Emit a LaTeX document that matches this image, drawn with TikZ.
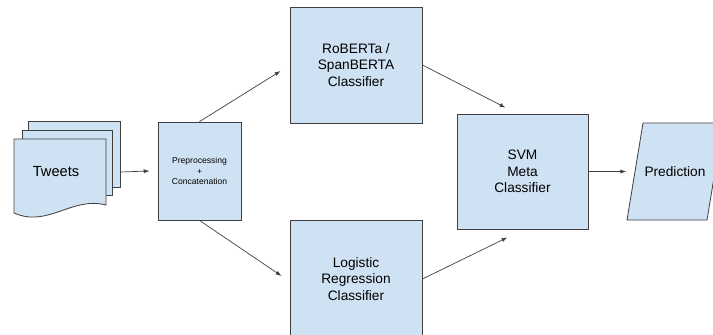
\documentclass[tikz,border=0pt]{standalone}
\usepackage{fontspec}
\setmainfont{Liberation Sans}
\usepackage{tikz}
\usetikzlibrary{arrows.meta,positioning,calc}
\definecolor{boxblue}{HTML}{CFE2F3}
\definecolor{edgegray}{HTML}{404040}

\begin{document}
\begin{tikzpicture}[
  x=0.03cm, y=-0.03cm,
  >={Latex[length=5pt,width=3.5pt]},
  every node/.style={font=\fontsize{11.7}{14.2}\selectfont},
  box/.style={draw=edgegray, line width=0.7pt, fill=boxblue, align=center, inner sep=0pt},
  page/.style={draw=edgegray, line width=0.7pt, fill=boxblue},
  arr/.style={->, draw=edgegray, line width=0.6pt}
]
\useasboundingbox (0,0) rectangle (713,334);
\clip (0,0) rectangle (713,334);
% stack of tweets
\draw[page] (28,121) rectangle (120,187);
\draw[page] (22,130) rectangle (112,195);
\draw[page] (14,139) -- (106,139) -- (106,205)
  .. controls (72,196) and (48,228) .. (14,213) -- cycle;
\node[font=\fontsize{12.5}{15}\selectfont] (tw) at (56,172) {Tweets};
\coordinate (twout) at (120,172);
% boxes
\node[box, minimum width=2.49cm, minimum height=2.94cm, font=\fontsize{7.3}{9}\selectfont] (pre) at (199.5,171) {Preprocessing\\+\\Concatenation};
\node[box, minimum width=3.96cm, minimum height=3.48cm] (rob) at (356,65) {RoBERTa /\\SpanBERTA\\Classifier};
\node[box, minimum width=3.96cm, minimum height=3.54cm] (log) at (356,279) {Logistic\\Regression\\Classifier};
\node[box, minimum width=3.93cm, minimum height=3.45cm] (svm) at (522.5,171.5) {SVM\\Meta\\Classifier};
% output
\draw[page] (627,220) -- (643,123) -- (723,123) -- (707,220) -- cycle;
\node[inner sep=0pt] (pred) at (675,171.5) {Prediction};
% arrows
\draw[arr] (twout) -- ([shift={(-8,0)}]pre.west);
\draw[arr] (pre.north) -- ([shift={(-9,6)}]rob.west);
\draw[arr] (pre.south) -- ([shift={(-8,-3)}]log.west);
\draw[arr] (rob.east) -- ([shift={(-17,-6)}]svm.north);
\draw[arr] (log.east) -- ([shift={(-15,8)}]svm.south);
\draw[arr] (svm.east) -- ([shift={(-18,0)}]pred.west);
\end{tikzpicture}
\end{document}
